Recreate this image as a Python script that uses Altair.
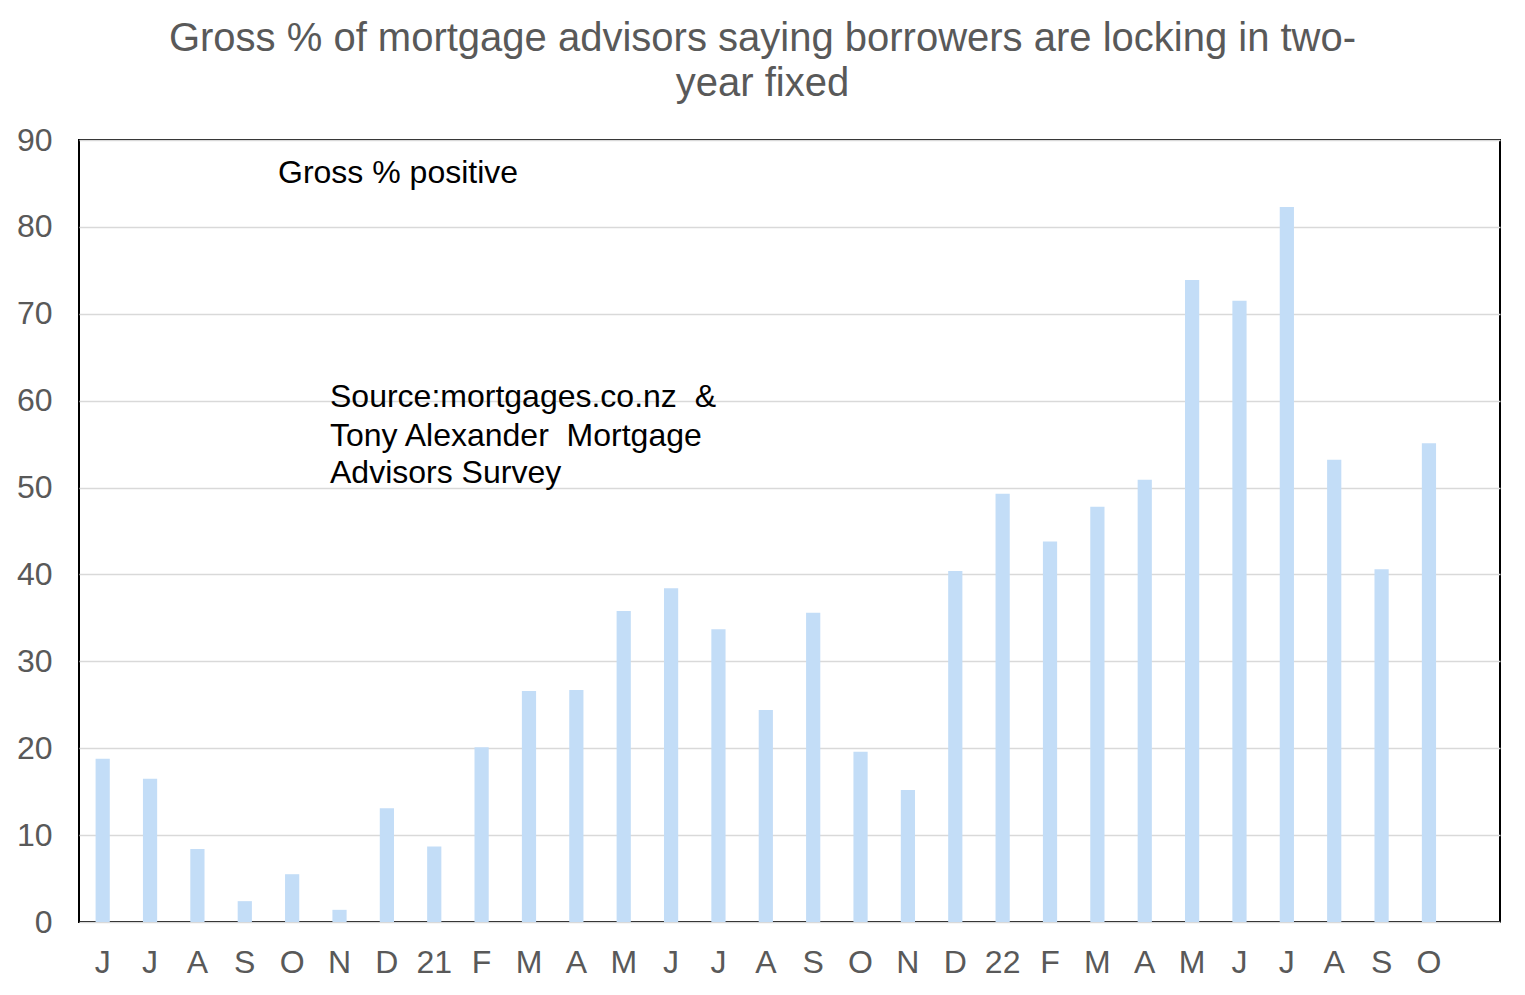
import altair as alt
import pandas as pd

labels = ["J", "J", "A", "S", "O", "N", "D", "21", "F", "M", "A", "M", "J", "J", "A",
          "S", "O", "N", "D", "22", "F", "M", "A", "M", "J", "J", "A", "S", "O", ""]
values = [18.8, 16.5, 8.4, 2.4, 5.5, 1.4, 13.1, 8.7, 20.1, 26.6, 26.7, 35.8, 38.4, 33.7, 24.4,
          35.6, 19.6, 15.2, 40.4, 49.3, 43.8, 47.8, 50.9, 73.9, 71.5, 82.3, 53.2, 40.6, 55.1]

note_text = ["Gross % positive", "Source:mortgages.co.nz \u00a0&", "Tony Alexander \u00a0Mortgage", "Advisors Survey"]
note_y = [86.2, 60.4, 55.9, 51.7]
note_x = [199, 251, 251, 251]

df = pd.DataFrame({"idx": list(range(len(values))), "value": values})
notes = pd.DataFrame({"text": note_text, "yv": note_y, "px": note_x})

label_expr = "[" + ",".join("'" + l + "'" for l in labels) + "][datum.value]"

FONT = "Liberation Sans"
GRAY = "#595959"

bars = alt.Chart(df).mark_bar(color="#c3ddf7").encode(
    x=alt.X("idx:O", scale=alt.Scale(domain=list(range(len(labels))), paddingInner=0.700, paddingOuter=0.350),
            axis=alt.Axis(title=None, labelExpr=label_expr, labelAngle=0, ticks=False, domain=False,
                          labelFont=FONT, labelFontSize=32, labelColor=GRAY, labelPadding=25)),
    y=alt.Y("value:Q", scale=alt.Scale(domain=[0, 90], nice=False),
            axis=alt.Axis(title=None, values=list(range(0, 91, 10)), ticks=False, domain=False,
                          labelFont=FONT, labelFontSize=32, labelColor=GRAY, labelPadding=27,
                          grid=True, gridColor="#d9d9d9", gridWidth=1.5)),
)

anno = alt.Chart(notes).mark_text(font=FONT, fontSize=32, color="black", align="left", baseline="middle").encode(
    x=alt.X("px:Q", scale=None), y=alt.Y("yv:Q"), text="text:N"
)

chart = alt.layer(bars, anno).properties(
    width=1421, height=782,
    background="white",
    title=alt.TitleParams(
        ["Gross % of mortgage advisors saying borrowers are locking in two-", "year fixed"],
        font=FONT, fontSize=40, fontWeight="normal", color=GRAY, anchor="middle",
        lineHeight=45, offset=20, dx=-27, frame="group"),
    padding={"left": 71, "top": 132, "right": 17, "bottom": 65},
    autosize=alt.AutoSizeParams(type="none"),
).configure_view(stroke="black", strokeWidth=2)

chart.save("out.html", embed_options={"renderer": "svg", "actions": False})
